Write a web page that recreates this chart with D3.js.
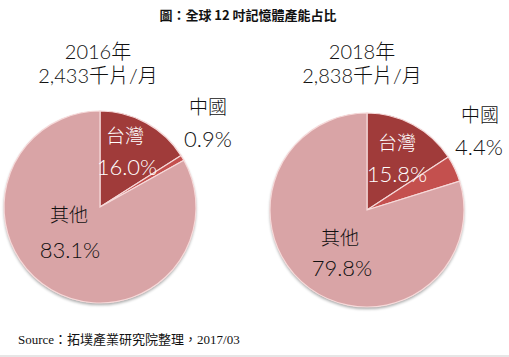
<!DOCTYPE html>
<html><head><meta charset="utf-8">
<script src="https://cdn.jsdelivr.net/npm/d3@7"></script>
<style>
html,body{margin:0;padding:0;background:#fff;}
svg{display:block;}
</style></head>
<body>
<script>
const categories = ["台灣", "中國", "其他"];
const years = ["2016年", "2018年"];
const capacities = ["2,433千片/月", "2,838千片/月"];
const values2016 = [16.0, 0.9, 83.1];
const values2018 = [15.8, 4.4, 79.8];
const colors = ["#A03B3A", "#C4504E", "#D9A4A6"];
const title = "圖：全球 12 吋記憶體產能占比";
const source = "Source：拓墣產業研究院整理，2017/03";

const W = 509, H = 357;
const svg = d3.select("body").append("svg").attr("width", W).attr("height", H);
const font = "'Noto Sans CJK TC','Noto Sans',sans-serif";
const lfont = "Lato,'Noto Sans CJK TC',sans-serif";

svg.append("line").attr("x1",0).attr("x2",W).attr("y1",H-1).attr("y2",H-1)
  .attr("stroke","#e6e6e6").attr("stroke-width",2);

svg.append("text").attr("x",248).attr("y",20).attr("text-anchor","middle")
  .attr("font-family",font).attr("font-size",13).attr("font-weight",700)
  .attr("fill","#111").text(title);

svg.append("text").attr("x",18).attr("y",344)
  .attr("font-family","'Liberation Serif','Noto Sans CJK TC',serif").attr("font-size",13)
  .attr("fill","#111").text(source);

const defs = svg.append("defs");
const f = defs.append("filter").attr("id","sh").attr("x","-20%").attr("y","-20%").attr("width","140%").attr("height","140%");
f.append("feGaussianBlur").attr("in","SourceAlpha").attr("stdDeviation",1.5);
f.append("feOffset").attr("dx",0).attr("dy",2).attr("result","o");
f.append("feComponentTransfer").append("feFuncA").attr("type","linear").attr("slope",0.35);
const m = f.append("feMerge"); m.append("feMergeNode"); m.append("feMergeNode").attr("in","SourceGraphic");

const pies = [
  {cx:100, cy:207, r:96, vals:values2016, year:years[0], cap:capacities[0], tx:98,
   lab:[{x:125,y:143,c:"#fff"},{x:208,y:114,c:"#111"},{x:69,y:222,c:"#111"}],
   pct:[{x:127,y:175,c:"#fff"},{x:208,y:147,c:"#111"},{x:70,y:258,c:"#111"}]},
  {cx:367, cy:210, r:97, vals:values2018, year:years[1], cap:capacities[1], tx:362,
   lab:[{x:397,y:150,c:"#fff"},{x:480,y:122,c:"#111"},{x:340,y:245,c:"#111"}],
   pct:[{x:397,y:182,c:"#fff"},{x:479,y:155,c:"#111"},{x:342,y:276,c:"#111"}]}
];

const pie = d3.pie().sort(null).value(d=>d);
pies.forEach(p=>{
  const g = svg.append("g").attr("transform",`translate(${p.cx},${p.cy})`);
  const arc = d3.arc().innerRadius(0).outerRadius(p.r);
  g.append("circle").attr("r",p.r).attr("fill","#D9A4A6").attr("filter","url(#sh)");
  g.selectAll("path").data(pie(p.vals)).join("path")
    .attr("d",arc).attr("fill",(d,i)=>colors[i])
    .attr("stroke","#F6DADA").attr("stroke-width",1.2);
  svg.append("text").attr("x",p.tx).attr("y",59).attr("text-anchor","middle")
    .attr("font-family",lfont).attr("font-size",20).attr("font-weight",300).attr("fill","#111").text(p.year);
  svg.append("text").attr("x",p.tx).attr("y",83).attr("text-anchor","middle")
    .attr("font-family",lfont).attr("font-size",20).attr("font-weight",300).attr("fill","#111").text(p.cap);
  categories.forEach((c,i)=>{
    svg.append("text").attr("x",p.lab[i].x).attr("y",p.lab[i].y).attr("text-anchor","middle")
      .attr("font-family",font).attr("font-size",19).attr("font-weight",300).attr("fill",p.lab[i].c).text(c);
    svg.append("text").attr("x",p.pct[i].x).attr("y",p.pct[i].y).attr("text-anchor","middle")
      .attr("font-family",lfont).attr("font-size",22).attr("font-weight",300).attr("fill",p.pct[i].c)
      .text(p.vals[i].toFixed(1)+"%");
  });
});
</script>
</body></html>
